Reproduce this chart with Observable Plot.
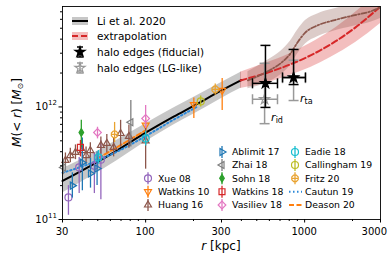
<!DOCTYPE html>
<html><head><meta charset="utf-8">
<script src="https://cdn.jsdelivr.net/npm/d3@7"></script>
<script src="https://cdn.jsdelivr.net/npm/@observablehq/plot@0.6"></script>
<style>body{margin:0;background:#fff;} svg{font-family:"DejaVu Sans";}</style>
</head><body><div id="chart"></div>
<script>
// ---- axis ticks ----
const xTicks = [30, 100, 300, 1000, 3000];
const xMinor = [40, 50, 60, 70, 80, 90, 200, 400, 500, 600, 700, 800, 900, 2000];
const yTicks = [1e11, 1e12];
const yTickExp = ["11", "12"];
const yMinor = [2e11, 3e11, 4e11, 5e11, 6e11, 7e11, 8e11, 9e11, 2e12, 3e12, 4e12, 5e12, 6e12, 7e12];

// ---- Li et al. 2020 profile (r [kpc], M, lower, upper) ----
const liR  = [30, 45, 66, 100, 150, 200, 300, 400];
const liM  = [2.2e11, 3.0e11, 4.1e11, 5.9e11, 8.2e11, 1.02e12, 1.4e12, 1.73e12];
const liLo = [1.72e11, 2.4e11, 3.33e11, 4.9e11, 6.9e11, 8.6e11, 1.19e12, 1.47e12];
const liHi = [2.82e11, 3.75e11, 5.05e11, 7.1e11, 9.8e11, 1.21e12, 1.65e12, 2.04e12];

// ---- extrapolation ----
const extR  = [395, 567, 815, 1090, 1455, 2090, 3000];
const extM  = [1.72e12, 1.99e12, 2.39e12, 2.87e12, 3.59e12, 5.09e12, 7.82e12];
const extLo = [1.46e12, 1.62e12, 1.91e12, 2.24e12, 2.75e12, 3.74e12, 5.52e12];
const extHi = [2.03e12, 2.44e12, 2.99e12, 3.67e12, 4.69e12, 6.92e12, 1.11e13];

// ---- second (brown) extrapolation ----
const altR  = [440, 585, 706, 815, 902, 1012, 1206, 1520, 2030, 2600, 3000];
const altM  = [1.72e12, 2.07e12, 2.44e12, 2.99e12, 3.74e12, 4.59e12, 5.3e12, 5.87e12, 6.5e12, 7.06e12, 7.66e12];
const altLo = [1.45e12, 1.65e12, 1.92e12, 2.35e12, 2.95e12, 3.62e12, 4.2e12, 4.7e12, 5.2e12, 5.65e12, 6.1e12];
const altHi = [2.05e12, 2.6e12, 3.1e12, 3.85e12, 4.8e12, 5.85e12, 6.7e12, 7.4e12, 8.2e12, 8.9e12, 9.6e12];

// ---- model curves ----
const cautunR = [30, 45, 66, 100, 150, 210];
const cautunM = [2.6e11, 3.15e11, 4.0e11, 5.5e11, 7.7e11, 1.0e12];
const deasonR = [50, 70, 100];
const deasonM = [3.5e11, 4.6e11, 6.2e11];

// ---- measurements: [r, M, Mlow, Mhigh] ----
const xue08 = [[32.7, 1.57e11, 1.09e11, 2.0e11], [38.2, 2.9e11, 1.7e11, 3.56e11], [47.6, 3.0e11, 1.7e11, 3.9e11], [52.3, 3.4e11, 1.5e11, 5.0e11]];
const watkins10 = [[100, 6.9e11, 5.6e11, 8.0e11], [201, 1.05e12, 7.9e11, 1.2e12], [303, 1.4e12, 9.3e11, 1.79e12]];
const huang16 = [[31.3, 3.35e11, 2.9e11, 3.9e11], [33.6, 3.7e11, 3.2e11, 4.3e11], [36.2, 3.94e11, 3.4e11, 4.6e11], [40, 4.1e11, 3.5e11, 4.8e11],
  [42.2, 3.7e11, 3.1e11, 4.4e11], [44.9, 4.1e11, 3.5e11, 4.8e11], [52.3, 4.55e11, 3.8e11, 5.4e11], [57, 4.74e11, 3.9e11, 5.7e11],
  [62.9, 4.37e11, 3.6e11, 5.3e11], [69.6, 5.81e11, 4.4e11, 7.6e11], [78.5, 5.47e11, 4.3e11, 6.9e11], [100, 5.0e11, 2.8e11, 6.5e11]];
const ablimit17 = [[34.6, 2.0e11, 1.55e11, 2.6e11], [40, 3.2e11, 1.8e11, 5.3e11], [45, 2.56e11, 1.9e11, 3.5e11], [49.5, 2.84e11, 2.0e11, 4.0e11]];
const zhai18 = [[30.4, 2.9e11, 2.5e11, 3.4e11], [80.7, 7.3e11, 4.4e11, 1.14e12]];
const sohn18 = [[39.4, 5.93e11, 4.37e11, 7.6e11]];
const watkins18 = [[38.9, 4.37e11, 3.6e11, 5.04e11]];
const vasiliev18 = [[49.8, 5.93e11, 5.2e11, 6.6e11], [100, 7.9e11, 6.44e11, 1.03e12]];
const eadie18 = [[50.5, 3.56e11, 3.1e11, 4.1e11], [100, 5.25e11, 4.5e11, 6.1e11]];
const callingham19 = [[222, 1.12e12, 1.0e12, 1.25e12]];
const fritz20 = [[63.8, 5.7e11, 4.83e11, 7.28e11], [274, 1.43e12, 1.27e12, 1.6e12]];

// ---- halo edges: [r, M, rlow, rhigh, Mlow, Mhigh] ----
const edgesFid = [[567, 1.62e12, 470, 675, 9.9e11, 3.52e12], [852, 1.83e12, 726, 1012, 1.58e12, 3.24e12]];
const edgesLG  = [[560, 1.17e12, 470, 675, 7.1e11, 2.44e12], [852, 1.8e12, 726, 1012, 1.14e12, 2.6e12]];
const edgeLabels = ["id", "ta"];

// ---- symbols ----
const R = s => Math.sqrt(s / Math.PI);
const symTriUp = {draw(c, s) {const r = R(s) * 1.15; c.moveTo(0, -r); c.lineTo(r * 0.866, r * 0.5); c.lineTo(-r * 0.866, r * 0.5); c.closePath();}};
const symTriDown = {draw(c, s) {const r = R(s) * 1.15; c.moveTo(0, r); c.lineTo(r * 0.866, -r * 0.5); c.lineTo(-r * 0.866, -r * 0.5); c.closePath();}};
const symTriRight = {draw(c, s) {const r = R(s) * 1.15; c.moveTo(r, 0); c.lineTo(-r * 0.5, r * 0.866); c.lineTo(-r * 0.5, -r * 0.866); c.closePath();}};
const symTriLeft = {draw(c, s) {const r = R(s) * 1.15; c.moveTo(-r, 0); c.lineTo(r * 0.5, r * 0.866); c.lineTo(r * 0.5, -r * 0.866); c.closePath();}};
const symDiamond = {draw(c, s) {const r = R(s) * 1.1; c.moveTo(0, -r); c.lineTo(r, 0); c.lineTo(0, r); c.lineTo(-r, 0); c.closePath();}};
const symThin = {draw(c, s) {const r = R(s) * 1.1; c.moveTo(0, -r); c.lineTo(r * 0.6, 0); c.lineTo(0, r); c.lineTo(-r * 0.6, 0); c.closePath();}};
const symSquare = {draw(c, s) {const r = R(s) * 0.85; c.moveTo(-r, -r); c.lineTo(r, -r); c.lineTo(r, r); c.lineTo(-r, r); c.closePath();}};
const symCircle = {draw(c, s) {const r = R(s); c.moveTo(r, 0); c.arc(0, 0, r, 0, 2 * Math.PI);}};
const symOct = {draw(c, s) {const r = R(s); for (let k = 0; k < 8; k++) {const a = Math.PI / 8 + k * Math.PI / 4; k ? c.lineTo(r * Math.cos(a), r * Math.sin(a)) : c.moveTo(r * Math.cos(a), r * Math.sin(a));} c.closePath(); c.moveTo(-r, 0); c.lineTo(r, 0);}};
const capH = {draw(c, s) {const r = R(s); c.moveTo(-r, 0); c.lineTo(r, 0);}};
const capV = {draw(c, s) {const r = R(s); c.moveTo(0, -r); c.lineTo(0, r);}};

const series = [
  {name: "Xue 08", rows: xue08, color: "#9467bd", sym: symCircle, fill: "none"},
  {name: "Watkins 10", rows: watkins10, color: "#ff7f0e", sym: symTriDown, fill: "none"},
  {name: "Huang 16", rows: huang16, color: "#8c564b", sym: symTriUp, fill: "none"},
  {name: "Ablimit 17", rows: ablimit17, color: "#1f77b4", sym: symTriRight, fill: "none"},
  {name: "Zhai 18", rows: zhai18, color: "#7f7f7f", sym: symTriLeft, fill: "none"},
  {name: "Sohn 18", rows: sohn18, color: "#2ca02c", sym: symThin, fill: "#2ca02c"},
  {name: "Watkins 18", rows: watkins18, color: "#d62728", sym: symSquare, fill: "none"},
  {name: "Vasiliev 18", rows: vasiliev18, color: "#e377c2", sym: symDiamond, fill: "none"},
  {name: "Eadie 18", rows: eadie18, color: "#17becf", sym: symCircle, fill: "none"},
  {name: "Callingham 19", rows: callingham19, color: "#bcbd22", sym: symCircle, fill: "none"},
  {name: "Fritz 20", rows: fritz20, color: "#e9a330", sym: symOct, fill: "none"}
];
const cautunColor = "#2b88d8", deasonColor = "#ff7f0e";

const tbl = (r, m, lo, hi) => r.map((v, i) => ({r: v, m: m[i], lo: lo ? lo[i] : null, hi: hi ? hi[i] : null}));
const li = tbl(liR, liM, liLo, liHi);
const ext = tbl(extR, extM, extLo, extHi);
const alt = tbl(altR, altM, altLo, altHi);
const cautun = tbl(cautunR, cautunM);
const deason = tbl(deasonR, deasonM);

const marks = [
  Plot.areaY(li, {x: "r", y1: "lo", y2: "hi", fill: "black", fillOpacity: 0.22, curve: "monotone-x", clip: true}),
  Plot.areaY(ext, {x: "r", y1: "lo", y2: "hi", fill: "#d62728", fillOpacity: 0.3, curve: "monotone-x", clip: true}),
  Plot.areaY(alt, {x: "r", y1: "lo", y2: "hi", fill: "#8c564b", fillOpacity: 0.3, curve: "monotone-x", clip: true}),
  Plot.line(li, {x: "r", y: "m", stroke: "black", strokeWidth: 2, curve: "monotone-x"}),
  Plot.line(ext, {x: "r", y: "m", stroke: "#d62728", strokeWidth: 2, strokeDasharray: "6,3", curve: "monotone-x", clip: true}),
  Plot.line(alt, {x: "r", y: "m", stroke: "#8c564b", strokeWidth: 1.8, strokeDasharray: "5,2,1.5,2", curve: "monotone-x", clip: true}),
  Plot.line(cautun, {x: "r", y: "m", stroke: cautunColor, strokeWidth: 2, strokeDasharray: "1.5,2.5", curve: "monotone-x"}),
  Plot.line(deason, {x: "r", y: "m", stroke: deasonColor, strokeWidth: 2, strokeDasharray: "5,2.5", curve: "monotone-x"})
];
for (const s of series) {
  marks.push(Plot.ruleX(s.rows, {x: d => d[0], y1: d => d[2], y2: d => d[3], stroke: s.color, strokeWidth: 1.3}));
  marks.push(Plot.dot(s.rows, {x: d => d[0], y: d => d[1], symbol: s.sym, r: 3.5, stroke: s.color, fill: s.fill, strokeWidth: 1.2}));
}
function edgeMarks(rows, color, fill) {
  return [
    Plot.ruleX(rows, {x: d => d[0], y1: d => d[4], y2: d => d[5], stroke: color, strokeWidth: 1.5}),
    Plot.ruleY(rows, {y: d => d[1], x1: d => d[2], x2: d => d[3], stroke: color, strokeWidth: 1.5}),
    Plot.dot(rows, {x: d => d[0], y: d => d[4], symbol: capH, r: 5, stroke: color, strokeWidth: 1.5}),
    Plot.dot(rows, {x: d => d[0], y: d => d[5], symbol: capH, r: 5, stroke: color, strokeWidth: 1.5}),
    Plot.dot(rows, {x: d => d[2], y: d => d[1], symbol: capV, r: 5, stroke: color, strokeWidth: 1.5}),
    Plot.dot(rows, {x: d => d[3], y: d => d[1], symbol: capV, r: 5, stroke: color, strokeWidth: 1.5}),
    Plot.dot(rows, {x: d => d[0], y: d => d[1], symbol: "star", r: 3.2, stroke: color, fill: fill, strokeWidth: 1.2})
  ];
}
marks.push(...edgeMarks(edgesLG, "#999999", "none"));
marks.push(...edgeMarks(edgesFid, "black", "black"));
marks.push(
  Plot.axisX({ticks: xTicks, tickSize: 3.5, tickFormat: () => "", label: null}),
  Plot.axisX({ticks: xMinor, tickSize: 2, tickFormat: () => "", label: null}),
  Plot.axisY({ticks: yTicks, tickSize: 3.5, tickFormat: () => "", label: null}),
  Plot.axisY({ticks: yMinor, tickSize: 2, tickFormat: () => "", label: null}),
  Plot.frame({stroke: "black", strokeWidth: 0.9})
);

const plot = Plot.plot({
  width: 390, height: 258,
  marginLeft: 62, marginRight: 10, marginTop: 6, marginBottom: 39,
  style: {fontFamily: "DejaVu Sans", fontSize: "10px", color: "black", background: "white"},
  x: {type: "log", domain: [30, 3000]},
  y: {type: "log", domain: [1e11, 7.8e12]},
  marks
});
document.getElementById("chart").appendChild(plot);

const sx = plot.scale("x"), sy = plot.scale("y");
const svg = d3.select(plot);
const g = svg.append("g").attr("font-family", "DejaVu Sans").attr("fill", "black").attr("text-anchor", "start");

// x tick labels (last one kept inside the picture)
xTicks.forEach((v, i) => {
  const last = i === xTicks.length - 1;
  g.append("text").attr("x", sx.apply(v) + (last ? 7 : 0)).attr("y", 235)
    .attr("text-anchor", last ? "end" : "middle").attr("font-size", 10).text(String(v));
});

// y tick labels with superscripts
yTicks.forEach((v, i) => {
  const t = g.append("text").attr("x", 57).attr("y", sy.apply(v) + 4).attr("text-anchor", "end").attr("font-size", 10);
  t.append("tspan").text("10");
  t.append("tspan").attr("font-size", 7).attr("dy", -5).text(yTickExp[i]);
});

// axis labels
const xl = g.append("text").attr("x", (62 + 380) / 2).attr("y", 250).attr("text-anchor", "middle").attr("font-size", 12);
xl.append("tspan").attr("font-style", "italic").text("r");
xl.append("tspan").text(" [kpc]");
const yl = g.append("text").attr("transform", `translate(21,${(6 + 219) / 2}) rotate(-90)`).attr("text-anchor", "middle").attr("font-size", 12);
yl.append("tspan").attr("font-style", "italic").text("M");
yl.append("tspan").text("(< ");
yl.append("tspan").attr("font-style", "italic").text("r");
yl.append("tspan").text(") [");
yl.append("tspan").attr("font-style", "italic").text("M");
yl.append("tspan").attr("font-size", 8).attr("dy", 2).text("⊙");
yl.append("tspan").attr("dy", -2).text("]");

// edge labels
edgesLG.forEach((d, i) => {
  const t = g.append("text").attr("x", sx.apply(d[0]) + 7).attr("y", sy.apply(d[4]) + (i === 0 ? -2 : 2)).attr("font-size", 11);
  t.append("tspan").attr("font-style", "italic").text("r");
  t.append("tspan").attr("font-size", 8).attr("dy", 2).text(edgeLabels[i]);
});

// legend 1
const L1 = g.append("g").attr("font-size", 10.5);
const l1y = [21, 36, 52, 68];
const l1t = ["Li et al. 2020", "extrapolation", "halo edges (fiducial)", "halo edges (LG-like)"];
L1.append("rect").attr("x", 72).attr("y", l1y[0] - 4).attr("width", 16).attr("height", 8).attr("fill", "black").attr("fill-opacity", 0.22);
L1.append("line").attr("x1", 72).attr("x2", 88).attr("y1", l1y[0]).attr("y2", l1y[0]).attr("stroke", "black").attr("stroke-width", 2);
L1.append("rect").attr("x", 72).attr("y", l1y[1] - 4).attr("width", 16).attr("height", 8).attr("fill", "#d62728").attr("fill-opacity", 0.3);
L1.append("line").attr("x1", 72).attr("x2", 88).attr("y1", l1y[1]).attr("y2", l1y[1]).attr("stroke", "#d62728").attr("stroke-width", 2).attr("stroke-dasharray", "6,3");
[[l1y[2], "black", "black"], [l1y[3], "#999999", "none"]].forEach(([y, c, f]) => {
  L1.append("line").attr("x1", 80).attr("x2", 80).attr("y1", y - 5).attr("y2", y + 5).attr("stroke", c).attr("stroke-width", 1.5);
  L1.append("line").attr("x1", 77).attr("x2", 83).attr("y1", y - 5).attr("y2", y - 5).attr("stroke", c).attr("stroke-width", 1.5);
  L1.append("line").attr("x1", 77).attr("x2", 83).attr("y1", y + 5).attr("y2", y + 5).attr("stroke", c).attr("stroke-width", 1.5);
  L1.append("path").attr("transform", `translate(80,${y})`).attr("d", d3.symbol(d3.symbolStar, Math.PI * 3.2 * 3.2)()).attr("fill", f).attr("stroke", c).attr("stroke-width", 1.2);
});
l1t.forEach((t, i) => L1.append("text").attr("x", 97).attr("y", l1y[i] + 3.8).attr("text-anchor", "start").text(t));

// legend 2
const L2 = g.append("g").attr("font-size", 9.3);
const colX = [148, 222, 295];
const rowY = [152, 165, 178.3, 191.7, 205];
const slots = [[0, 2], [0, 3], [0, 4], [1, 0], [1, 1], [1, 2], [1, 3], [1, 4], [2, 0], [2, 1], [2, 2]];
series.forEach((s, i) => {
  const [c, r] = slots[i];
  const x = colX[c], y = rowY[r];
  L2.append("line").attr("x1", x).attr("x2", x).attr("y1", y - 6).attr("y2", y + 6).attr("stroke", s.color).attr("stroke-width", 1.3);
  L2.append("path").attr("transform", `translate(${x},${y})`).attr("d", d3.symbol(s.sym, Math.PI * 3.5 * 3.5)()).attr("fill", s.fill).attr("stroke", s.color).attr("stroke-width", 1.2);
  L2.append("text").attr("x", x + 10).attr("y", y + 3.4).attr("text-anchor", "start").text(s.name);
});
[[3, "Cautun 19", cautunColor, "1.5,2.5"], [4, "Deason 20", deasonColor, "5,2.5"]].forEach(([r, name, col, dash]) => {
  const y = rowY[r];
  L2.append("line").attr("x1", colX[2] - 6).attr("x2", colX[2] + 7).attr("y1", y).attr("y2", y).attr("stroke", col).attr("stroke-width", 2).attr("stroke-dasharray", dash);
  L2.append("text").attr("x", colX[2] + 10).attr("y", y + 3.4).attr("text-anchor", "start").text(name);
});
</script></body></html>
